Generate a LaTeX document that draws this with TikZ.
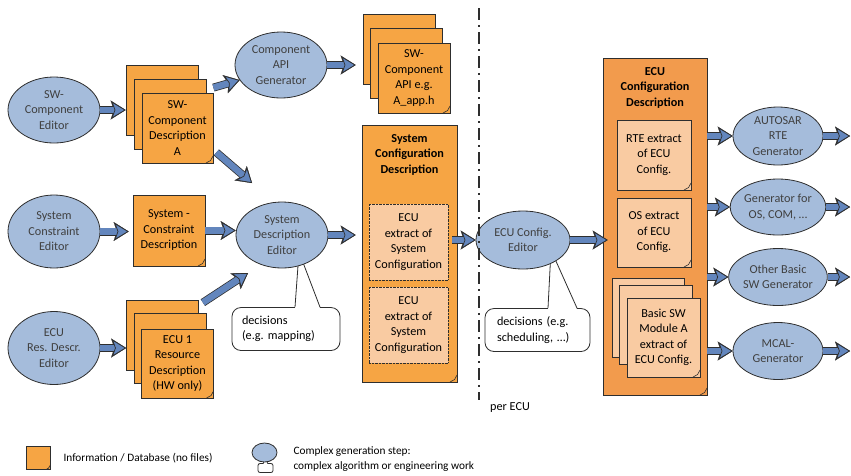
\documentclass[tikz,border=0pt]{standalone}
\usepackage{fontspec}
\setmainfont{Carlito}
\usetikzlibrary{arrows.meta,shapes.geometric}
\definecolor{ellblue}{HTML}{A5BCDB}
\definecolor{flowblue}{HTML}{6386BD}
\definecolor{docorange}{HTML}{F6A544}
\definecolor{cfgorange}{HTML}{F29B4D}
\definecolor{lightorange}{HTML}{F9CBA2}
\definecolor{edge}{HTML}{2E2E2E}
\newcommand\bodysize{\fontsize{12.2}{15.5}\selectfont}
\newcommand\legendsize{\fontsize{11.3}{15}\selectfont}
\tikzset{
  fold/.style={path picture={\draw[edge,line width=0.6pt]
      ([xshift=-#1]path picture bounding box.south east)
      -- ([xshift=-0.35*#1,yshift=0.35*#1]path picture bounding box.south east)
      -- ([yshift=#1]path picture bounding box.south east);}},
  fold/.default=7pt,
  tool/.style={ellipse, draw=edge, line width=0.8pt, fill=ellblue, text=black!75,
    minimum width=92pt, minimum height=66pt, inner sep=0pt, align=center},
  doc/.style={draw=edge, line width=0.8pt, fill=docorange, minimum width=72pt,
    minimum height=70pt, inner sep=1pt, align=center, fold},
  extract/.style={draw=edge, densely dotted, fill=lightorange, minimum width=79pt,
    minimum height=76pt, inner sep=1pt, align=center},
  cfgpart/.style={doc, fill=lightorange, minimum width=74pt},
  callbox/.style={draw=edge, line width=0.8pt, fill=white, rounded corners=9pt,
    align=left, minimum height=43pt},
  title/.style={anchor=north, yshift=-6pt, font=\bodysize\bfseries, align=center},
  flow/.style={draw=flowblue, line width=6.5pt,
    -{Stealth[length=14pt,width=17pt,inset=3pt,fill=flowblue,color=edge,line width=0.7pt]},
    preaction={draw=edge, line width=8pt,
      -{Stealth[length=15pt,width=19pt,inset=3.3pt,fill=edge,color=edge,line width=0.1pt]}}},
  divider/.style={draw=edge, line width=2pt, dash pattern=on 12pt off 5pt on 2pt off 5pt},
}
\begin{document}
\begin{tikzpicture}[x=1pt, y=-1pt, font=\bodysize]
\useasboundingbox (0,0) rectangle (851,475);
\coordinate (rim) at (850,0);

% remarks, drawn below the tools
\node[callbox, minimum width=108pt, text width=88pt, inner xsep=10pt] (dec1) at (286,329) {decisions\\(e.g.\ mapping)};
\node[callbox, minimum width=105pt, text width=81pt, inner xsep=12pt] (dec2) at (537.5,330) {decisions (e.g.\\scheduling, \dots)};
\coordinate (tip1) at (299,252);
\coordinate (tip2) at (551,250);
\fill[white] ([xshift=9pt,yshift=-1pt]dec1.north) -- (tip1) -- ([xshift=34pt,yshift=-1pt]dec1.north) -- cycle;
\draw[edge, line width=0.8pt] ([xshift=9pt]dec1.north) -- (tip1) -- ([xshift=34pt]dec1.north);
\fill[white] ([xshift=10.5pt,yshift=-1pt]dec2.north) -- (tip2) -- ([xshift=39.5pt,yshift=-1pt]dec2.north) -- cycle;
\draw[edge, line width=0.8pt] ([xshift=10.5pt]dec2.north) -- (tip2) -- ([xshift=39.5pt]dec2.north);

% tools
\node[tool] (swce) at (54,110) {SW-\\Component\\Editor};
\node[tool] (capig) at (281,65) {Component\\API\\Generator};
\node[tool, minimum height=73pt] (sce) at (54,231.5) {System\\Constraint\\Editor};
\node[tool, minimum height=73pt] (ecure) at (54,348) {ECU\\Res. Descr.\\Editor};
\node[tool] (sde) at (282,235) {System\\Description\\Editor};
\node[tool, minimum width=94pt, minimum height=58pt] (ecue) at (523,240) {ECU Config.\\Editor};
\node[tool, minimum width=90pt, minimum height=58pt] (genrte) at (778,136) {AUTOSAR\\RTE\\Generator};
\node[tool, minimum width=90pt, minimum height=56pt] (genos) at (778,207) {Generator for\\OS, COM, \dots};
\node[tool, minimum width=90pt, minimum height=57pt] (genbsw) at (778,277) {Other Basic\\SW Generator};
\node[tool, minimum width=90pt, minimum height=57pt] (genmcal) at (778,351) {MCAL-\\Generator};

% information
\node[doc] (swcd3) at (162,100) {};
\node[doc] (swcd2) at (170,114) {};
\node[doc, minimum width=71pt] (swcd) at (177.5,128) {SW-\\Component\\Description\\A};
\node[doc] (swapi3) at (399,49) {};
\node[doc] (swapi2) at (406.5,63) {};
\node[doc] (swapi) at (414,78) {SW-\\Component\\API e.g.\\A\_app.h};
\node[doc, minimum height=71pt] (scd) at (169,230.5) {System -\\Constraint\\Description};
\node[doc] (ecur3) at (162.5,335) {};
\node[doc] (ecur2) at (170,348) {};
\node[doc, minimum height=69pt] (ecur) at (177.5,363.5) {ECU 1\\Resource\\Description\\(HW only)};

\node[doc, minimum width=95pt, minimum height=257pt,
  label={[title]north:{System\\Configuration\\Description}}] (sysc) at (409.5,253.5) {};
\node[extract] (ext1) at (408.5,242) {ECU\\extract of\\System\\Configuration};
\node[extract] (ext2) at (408.5,325) {ECU\\extract of\\System\\Configuration};

\node[doc, fill=cfgorange, minimum width=104pt, minimum height=337pt,
  label={[title]north:{ECU\\Configuration\\Description}}] (ecfg) at (655,226.5) {};
\node[cfgpart, minimum height=70pt] (rte) at (654,155) {RTE extract\\of ECU\\Config.};
\node[cfgpart, minimum height=69pt] (osx) at (654,232.5) {OS extract\\of ECU\\Config.};
\node[cfgpart, minimum height=79pt, minimum width=72pt] (bsw3) at (648,318) {};
\node[cfgpart, minimum height=79pt, minimum width=73pt] (bsw2) at (655.5,325) {};
\node[cfgpart, minimum height=79pt, minimum width=73pt] (bsw) at (663.5,337.5) {Basic SW\\Module A\\extract of\\ECU Config.};

% per ECU border
\coordinate (divtop) at (479,8);
\coordinate (divbot) at (479,400);
\draw[divider] (divtop) -- (divbot);
\node (perecu) at (510,408) {per ECU};

% flows
\coordinate (sdein) at (252,183);
\coordinate (sdein2) at (248,273);
\draw[flow] (swce.east) -- (swce.east -| swcd3.west);
\draw[flow] ([yshift=5pt]swcd.north east) -- (capig.200);
\draw[flow] ([xshift=3pt,yshift=11pt]swcd.south east) -- (sdein);
\draw[flow, shorten >=7pt] (capig.east) -- (capig.east -| swapi3.west);
\draw[flow, shorten >=4pt] (sce.east) -- (sce.east -| scd.west);
\draw[flow] (scd.east) -- (scd.east -| sde.west);
\draw[flow] (ecure.east) -- (ecure.east -| ecur3.west);
\draw[flow] ([xshift=4pt,yshift=-3pt]ecur3.north east) -- (sdein2);
\draw[flow, shorten >=6pt] (sde.east) -- (sde.east -| sysc.west);
\draw[flow, shorten <=-5pt] (ecue.west -| sysc.east) -- (ecue.west);
\draw[flow, shorten >=-5pt] (ecue.east) -- (ecue.east -| ecfg.west);
\foreach \g in {genrte,genos,genbsw,genmcal} {
  \draw[flow] (\g.west -| ecfg.east) -- (\g.west);
  \draw[flow] (\g.east) -- (\g.east -| rim);
}

% legend
\node[doc, minimum width=24pt, minimum height=23pt, fold=4pt] (legdoc) at (38,458) {};
\node[anchor=west, font=\legendsize] (legdoctext) at (60,458) {Information / Database (no files)};
\node[draw=edge, line width=0.8pt, fill=white, rounded corners=2pt, minimum width=15pt,
  minimum height=9pt, inner sep=0pt] (legcall) at (265.5,468) {};
\coordinate (legtip) at (265,456);
\fill[white] ([xshift=-2pt,yshift=-1pt]legcall.north) -- (legtip) -- ([xshift=2pt,yshift=-1pt]legcall.north) -- cycle;
\draw[edge, line width=0.8pt] ([xshift=-2pt]legcall.north) -- (legtip) -- ([xshift=2pt]legcall.north);
\node[tool, minimum width=25pt, minimum height=19pt] (legtool) at (264.5,452.5) {};
\node[anchor=west, align=left, font=\legendsize] (legtooltext) at (290,459.5) {Complex generation step:\\complex algorithm or engineering work};
\end{tikzpicture}
\end{document}
